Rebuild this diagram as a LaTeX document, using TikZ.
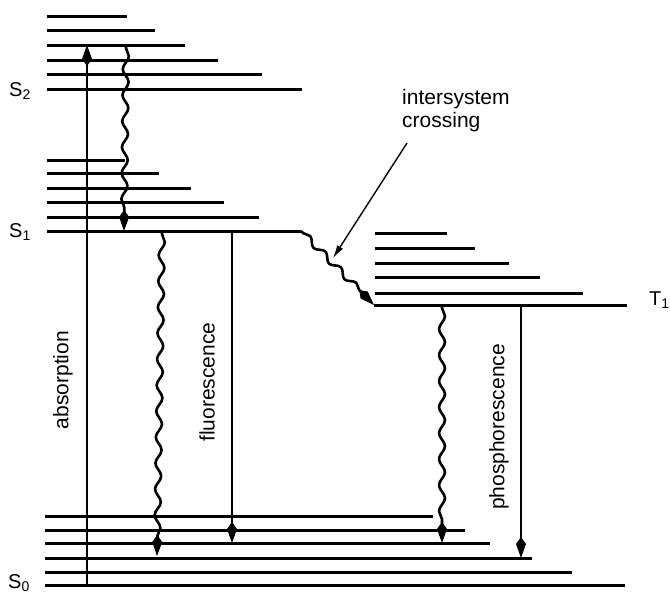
\documentclass[tikz,border=0pt]{standalone}
\usepackage{fontspec}
\setmainfont{Liberation Sans}
\usetikzlibrary{arrows.meta,decorations.pathmorphing}

\begin{document}
\begin{tikzpicture}[x=1pt,y=-1pt,
  level/.style={line width=3pt},
  trans/.style={line width=1.4pt},
  wavy/.style={line width=2.6pt, line join=round, decorate,
    decoration={snake,segment length=26pt,amplitude=3pt,pre length=3pt,post length=16pt}},
  tip/.style={-{Kite[length=21pt,width=10pt,inset=7pt]}},
  lbl/.style={font=\fontsize{21}{23}\selectfont, inner sep=0pt},
  statelbl/.style={font=\fontsize{20}{22}\selectfont, inner sep=0pt, anchor=west}
]
\useasboundingbox (0,0) rectangle (670,595);

% vibrational levels of S2
\foreach \yy/\xe in {16/127, 30/155, 45/185, 60/218, 74/262, 89/302}
  \draw[level] (47,\yy) -- (\xe,\yy);
% vibrational levels of S1
\foreach \yy/\xe in {160/125, 173/159, 188/191, 202/224, 217/259}
  \draw[level] (47,\yy) -- (\xe,\yy);
% S1 ground vibrational level, running into the crossing
\coordinate (s1end) at (301,231);
\draw[level] (47,231) -- (s1end);
% vibrational levels of T1
\foreach \yy/\xe in {233/447, 248/475, 263/509, 277/540, 293/583}
  \draw[level] (375,\yy) -- (\xe,\yy);
\coordinate (t1start) at (374,305);
\draw[level] (t1start) -- (627,305);
% vibrational levels of S0
\foreach \yy/\xe in {516/433, 530/465, 543/490, 558/532, 572/572, 585/625}
  \draw[level] (45,\yy) -- (\xe,\yy);

% state labels
\node[statelbl] (S2) at (9,91) {S\textsubscript{2}};
\node[statelbl] (S1) at (9,232) {S\textsubscript{1}};
\node[statelbl] (S0) at (8,583) {S\textsubscript{0}};
\node[statelbl] (T1) at (649,300) {T\textsubscript{1}};

% end points of the transitions
\coordinate (absS0) at (87,585);
\coordinate (absS2) at (87,45);
\coordinate (icS2) at (126,45);
\coordinate (icS1) at (124,231);
\coordinate (icaS1) at (162,231);
\coordinate (icaS0) at (157,556);
\coordinate (flS1) at (232,231);
\coordinate (flS0) at (232,543);
\coordinate (icbT1) at (442,305);
\coordinate (icbS0) at (442,543);
\coordinate (phT1) at (521,305);
\coordinate (phS0) at (521,558);

% radiative transitions
\draw[trans,tip] (absS0) -- (absS2);
\draw[trans,tip] (flS1) -- (flS0);
\draw[trans,tip] (phT1) -- (phS0);

% radiationless transitions
\draw[wavy,tip] (icS2) -- (icS1);
\draw[wavy,tip] (icaS1) -- (icaS0);
\draw[wavy,tip] (icbT1) -- (icbS0);
\draw[wavy,tip,decoration={segment length=22pt}] (s1end) -- (t1start);

% labels
\node[lbl, rotate=90] (absl) at (63,380) {absorption};
\node[lbl, rotate=90] (fluol) at (207,382) {fluorescence};
\node[lbl, rotate=90] (phosl) at (499,427) {phosphorescence};
\node[lbl, align=left, anchor=north west] (iscl) at (402,89) {intersystem\\crossing};
\coordinate (iscfrom) at (407,143);
\coordinate (iscpt) at (333,258);
\draw[line width=1.4pt,-{Latex[length=13pt,width=7pt]}] (iscfrom) -- (iscpt);
\end{tikzpicture}
\end{document}
